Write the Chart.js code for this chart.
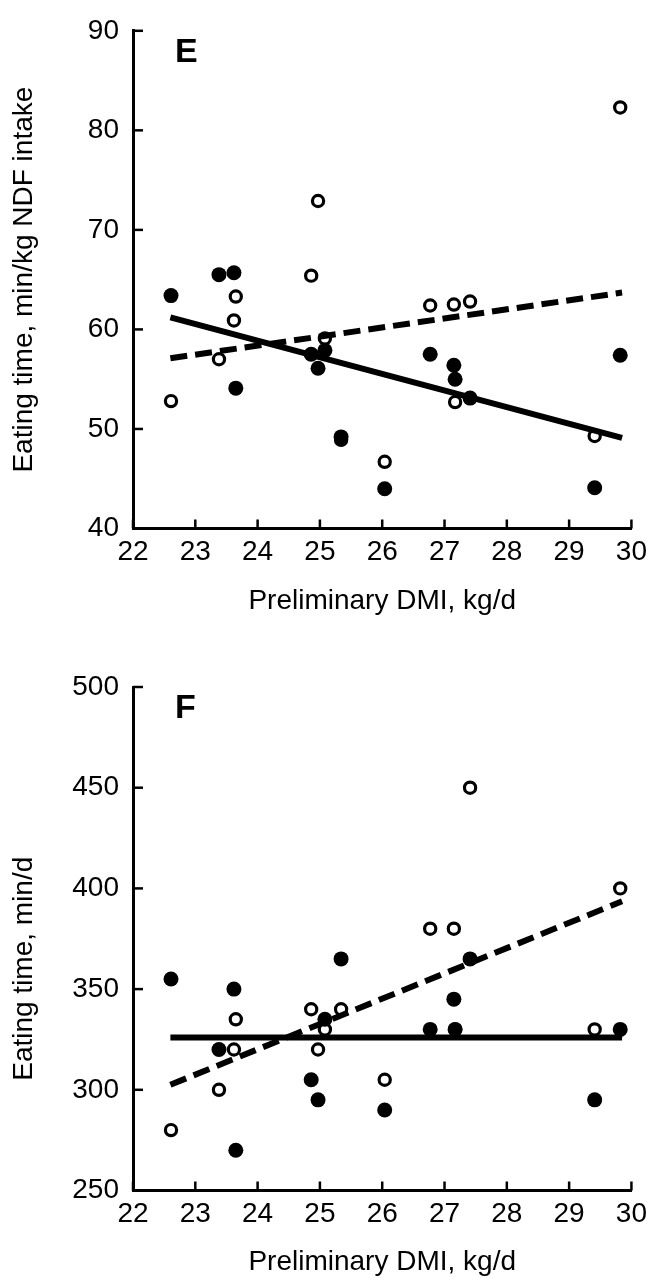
<!DOCTYPE html>
<html>
<head>
<meta charset="utf-8">
<script src="https://cdn.jsdelivr.net/npm/chart.js@4.4.1/dist/chart.umd.min.js"></script>
<style>
  body { margin: 0; background: #fff; }
  .panel { position: absolute; left: 0; width: 654px; }
</style>
</head>
<body>
<div class="panel" style="top:0;height:618px"><canvas id="ndf"></canvas></div>
<div class="panel" style="top:618px;height:661px"><canvas id="eat"></canvas></div>
<script>
// preliminary DMI of each cow, kg/d (same cows in both treatments)
var dmi = [22.61, 23.38, 23.62, 23.65, 24.86, 24.97, 25.08, 25.34, 26.04, 26.77, 27.15, 27.17, 27.41, 29.41, 29.82];

// panel E: eating time, min/kg NDF intake
var ndfFilled = [63.4, 65.5, 65.7, 54.1, 57.5, 56.1, 57.9, 49.2, 44.0, 57.5, 56.4, 55.0, 53.1, 44.1, 57.4];
var ndfOpen = [52.8, 57.0, 60.9, 63.3, 65.4, 72.9, 59.1, 48.9, 46.7, 62.4, 62.5, 52.7, 62.8, 49.3, 82.3];
var ndfSolidFit = [61.2, 49.1];
var ndfDashedFit = [57.1, 63.7];

// panel F: eating time, min/d
var eatFilled = [355, 320, 350, 270, 305, 295, 335, 365, 290, 330, 345, 330, 365, 295, 330];
var eatOpen = [280, 300, 320, 335, 340, 320, 330, 340, 305, 380, 380, 330, 450, 330, 400];
var eatSolidFit = [326, 326];
var eatDashedFit = [302.5, 393.6];

var fitRange = [22.6, 29.85];
var xRange = [22, 30];
var ndfRange = [40, 90];
var eatRange = [250, 500];

var FONT = '"Liberation Sans", Arial, Helvetica, sans-serif';
Chart.defaults.font.family = FONT;
Chart.defaults.color = '#000';

function toPoints(xs, ys) {
  return xs.map(function(x, i) { return {x: x, y: ys[i]}; });
}

// inward tick marks, the panel letter and the y title
var axisTicks = {
  id: 'axisTicks',
  afterDatasetsDraw: function(chart, args, opts) {
    var ctx = chart.ctx, area = chart.chartArea;
    var xs = chart.scales.x, ys = chart.scales.y;
    ctx.save();
    ctx.strokeStyle = '#000';
    ctx.lineWidth = 2.5;
    xs.ticks.forEach(function(t) {
      var px = xs.getPixelForValue(t.value);
      ctx.beginPath();
      ctx.moveTo(px, area.bottom);
      ctx.lineTo(px, area.bottom - 9);
      ctx.stroke();
    });
    ys.ticks.forEach(function(t) {
      var py = ys.getPixelForValue(t.value);
      ctx.beginPath();
      ctx.moveTo(area.left, py);
      ctx.lineTo(area.left + 10, py);
      ctx.stroke();
    });
    ctx.fillStyle = '#000';
    ctx.font = 'bold 34px ' + FONT;
    ctx.textBaseline = 'alphabetic';
    ctx.fillText(opts.letter, area.left + 42, area.top + 31);

    ctx.font = '28px ' + FONT;
    ctx.textAlign = 'center';
    ctx.textBaseline = 'middle';
    ctx.translate(24, (area.top + area.bottom) / 2 + opts.titleShift);
    ctx.rotate(-Math.PI / 2);
    ctx.fillText(opts.yTitle, 0, 0);
    ctx.restore();
  }
};

function buildChart(id, p) {
  var ctx = document.getElementById(id).getContext('2d');
  return new Chart(ctx, {
    type: 'scatter',
    data: {
      datasets: [
        {
          type: 'line',
          data: toPoints(fitRange, p.solid),
          borderColor: '#000',
          borderWidth: 6,
          pointRadius: 0,
          fill: false
        },
        {
          type: 'line',
          data: toPoints(fitRange, p.dashed),
          borderColor: '#000',
          borderWidth: 6,
          borderDash: [17, 8],
          pointRadius: 0,
          fill: false
        },
        {
          data: toPoints(dmi, p.filled),
          backgroundColor: '#000',
          borderWidth: 0,
          pointRadius: 7.5
        },
        {
          data: toPoints(dmi, p.open),
          backgroundColor: '#fff',
          borderColor: '#000',
          borderWidth: 3.2,
          pointRadius: 5.6
        }
      ]
    },
    options: {
      responsive: true,
      maintainAspectRatio: false,
      animation: false,
      layout: { padding: { top: p.top, right: 18, left: 0, bottom: 0 } },
      plugins: {
        legend: { display: false },
        tooltip: { enabled: false },
        axisTicks: { letter: p.letter, yTitle: p.yTitle, titleShift: p.titleShift }
      },
      scales: {
        x: {
          type: 'linear',
          min: xRange[0],
          max: xRange[1],
          ticks: { stepSize: 1, padding: 7, font: { size: 28 } },
          grid: { drawOnChartArea: false, drawTicks: false },
          border: { color: '#000', width: 3 },
          title: { display: true, text: 'Preliminary DMI, kg/d', font: { size: 28 }, padding: { top: 0, bottom: 0 } },
          afterFit: function(s) { s.height = p.xHeight; }
        },
        y: {
          type: 'linear',
          min: p.yRange[0],
          max: p.yRange[1],
          ticks: { stepSize: p.yStep, padding: 14, font: { size: 28 } },
          grid: { drawOnChartArea: false, drawTicks: false },
          border: { color: '#000', width: 3 },
          afterFit: function(s) { s.width = 133; }
        }
      }
    },
    plugins: [axisTicks]
  });
}

buildChart('ndf', {
  letter: 'E',
  top: 27,
  xHeight: 89.5,
  yRange: ndfRange,
  yStep: 10,
  yTitle: 'Eating time, min/kg NDF intake',
  titleShift: 0,
  filled: ndfFilled,
  open: ndfOpen,
  solid: ndfSolidFit,
  dashed: ndfDashedFit
});

buildChart('eat', {
  letter: 'F',
  top: 69,
  xHeight: 88.5,
  yRange: eatRange,
  yStep: 50,
  yTitle: 'Eating time, min/d',
  titleShift: 30,
  filled: eatFilled,
  open: eatOpen,
  solid: eatSolidFit,
  dashed: eatDashedFit
});
</script>
</body>
</html>
